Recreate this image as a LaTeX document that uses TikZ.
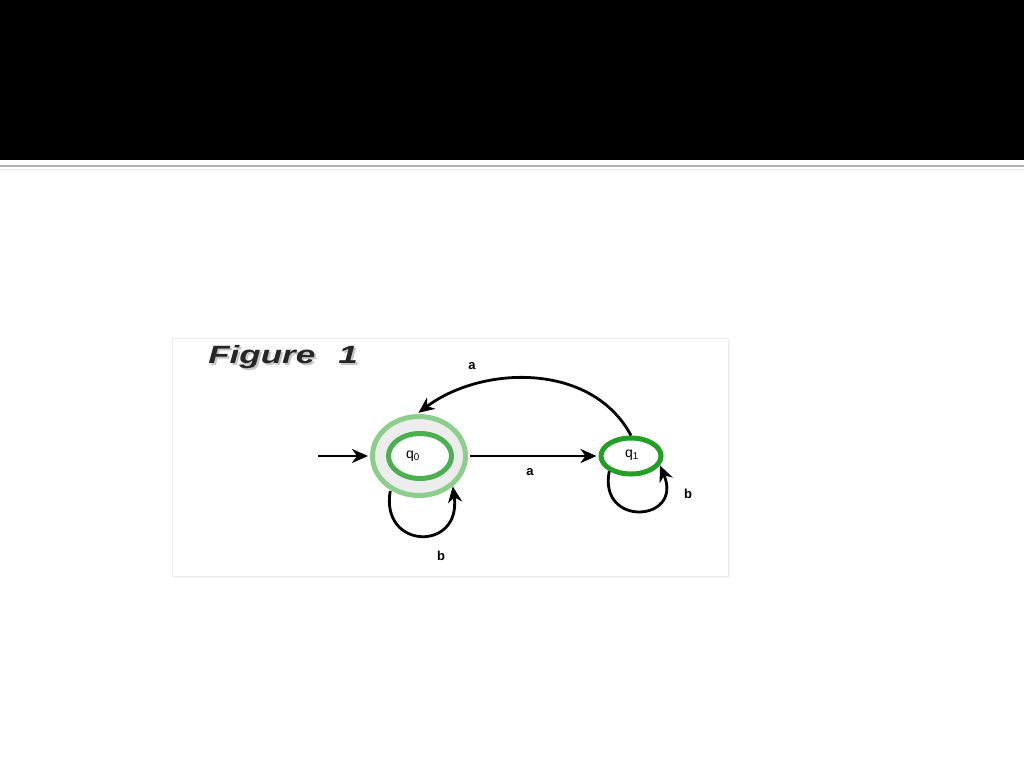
\documentclass[tikz,border=0pt]{standalone}
\usepackage{fontspec}
\setmainfont{Liberation Sans}
\usetikzlibrary{shapes.geometric,arrows.meta}
\definecolor{ringlight}{HTML}{8CCF8C}
\definecolor{ringmid}{HTML}{4CB050}
\definecolor{ringdark}{HTML}{23A023}
\definecolor{ringfill}{HTML}{EDEDED}
\tikzset{
  arr/.style={line width=2.8pt, -{Stealth[length=16pt,width=14pt,inset=5pt]}},
  lbl/.style={font=\bfseries\fontsize{13}{13}\selectfont, inner sep=0pt},
  statelbl/.style={font=\fontsize{14}{14}\selectfont, inner sep=0pt},
  figtxt/.style={font=\bfseries\itshape\fontsize{25}{25}\selectfont, inner sep=0pt, xscale=1.4, anchor=base west}
}
\begin{document}
\begin{tikzpicture}[x=1pt,y=-1pt]
\useasboundingbox (0,0) rectangle (1024,768);
\fill[white] (0,0) rectangle (1024,768);
% header band
\fill[black] (0,0) rectangle (1024,160);
\draw[gray!60, line width=2.5pt] (0,166) -- (1024,166);
\draw[gray!20, line width=1pt] (0,169) -- (1024,169);
% panel
\fill[gray!8] (174,340) rectangle (730,578);
\filldraw[fill=white, draw=gray!15] (172,338) rectangle (728,576);
% title
\node[figtxt, text=gray!45] at (210,365) {Figure};
\node[figtxt, text=gray!45] at (340,365) {1};
\node[figtxt, text=black!85] (figw) at (208,363) {Figure};
\node[figtxt, text=black!85] (fign) at (338,363) {1};
% states
\node[ellipse, draw=ringlight, fill=ringfill, line width=5pt, minimum width=93pt, minimum height=79pt, inner sep=0pt] (q0) at (419,456) {};
\node[ellipse, draw=ringmid, fill=white, line width=5pt, minimum width=63pt, minimum height=45pt, inner sep=0pt] (q0in) at (420,456) {};
\node[statelbl] (q0t) at (413,456) {q\textsubscript{0}};
\node[ellipse, draw=ringdark, fill=white, line width=5pt, minimum width=60pt, minimum height=36pt, inner sep=0pt] (q1) at (631,456) {};
\node[statelbl] (q1t) at (632,455) {q\textsubscript{1}};
% connectors
\coordinate (start) at (318,456);
\draw[arr, shorten >=2pt] (start) -- (q0.west);
\draw[arr, shorten <=2pt, shorten >=2pt] (q0.east) -- (q1.west);
\draw[arr, shorten >=2pt] (q1.north) .. controls (592,362) and (482,365) .. (q0.93);
\draw[arr, shorten <=1pt] (q0.230) .. controls (380,550) and (462,552) .. (q0.318);
\draw[arr] (q1.215) .. controls (598,528) and (684,522) .. (q1.342);
% labels
\node[lbl] (la1) at (472,366) {a};
\node[lbl] (la2) at (530,472) {a};
\node[lbl] (lb0) at (441,556) {b};
\node[lbl] (lb1) at (688,494) {b};
\end{tikzpicture}
\end{document}
